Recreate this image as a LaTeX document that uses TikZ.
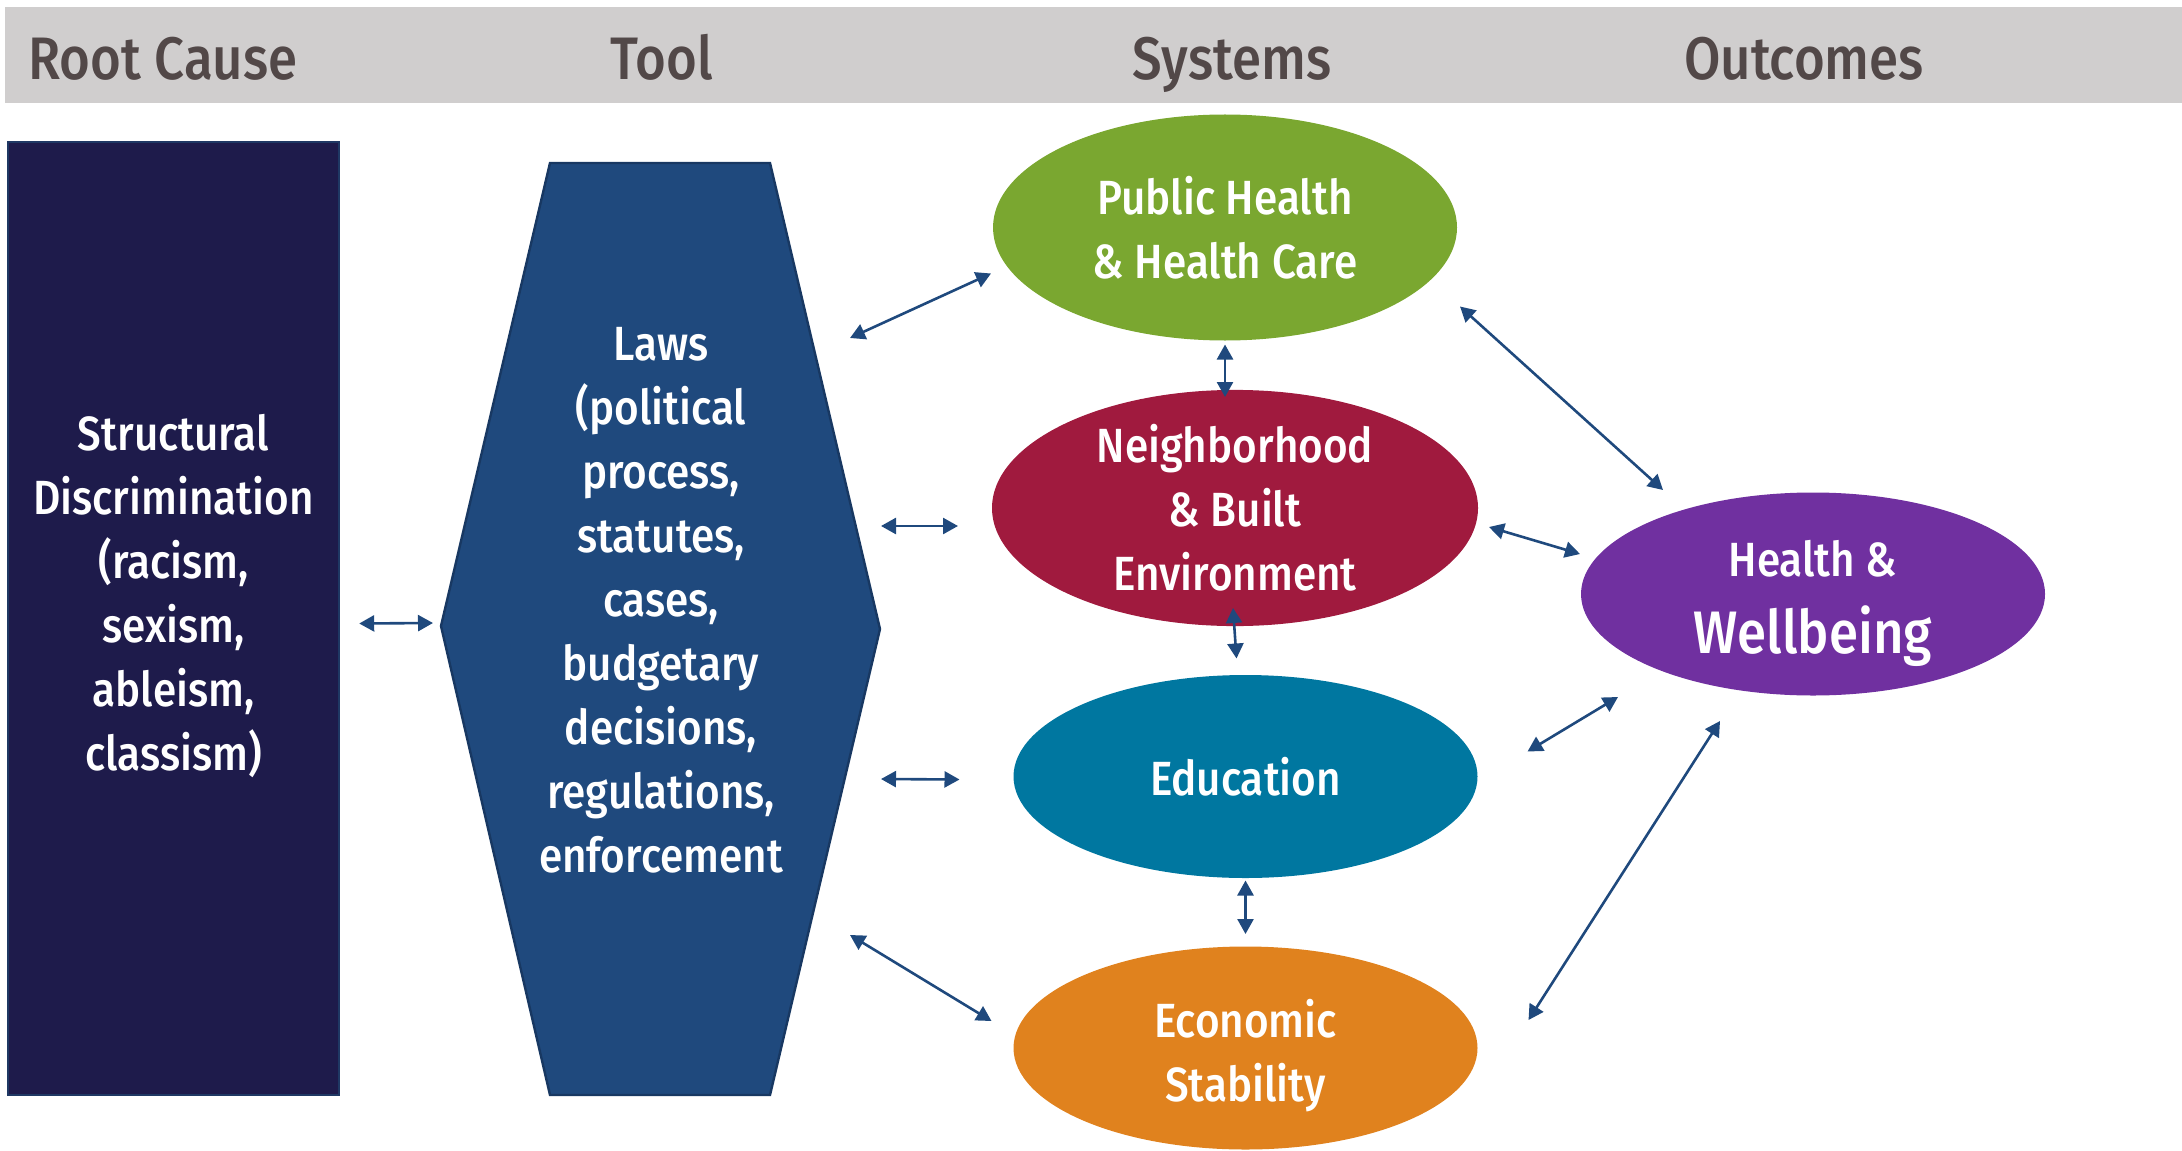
\documentclass[tikz,border=0pt]{standalone}
\usepackage{fontspec}
\setmainfont{Fira Sans}[UprightFont=* Medium, FakeStretch=0.88]
\usetikzlibrary{arrows.meta,calc,shapes.geometric}

\definecolor{bandgray}{RGB}{208,206,206}
\definecolor{headtext}{RGB}{82,72,72}
\definecolor{rootfill}{RGB}{30,27,75}
\definecolor{rootedge}{RGB}{31,56,100}
\definecolor{hexfill}{RGB}{31,73,125}
\definecolor{hexedge}{RGB}{24,56,98}
\definecolor{phgreen}{RGB}{122,167,48}
\definecolor{nbred}{RGB}{160,26,62}
\definecolor{edblue}{RGB}{0,119,160}
\definecolor{ecorange}{RGB}{224,130,30}
\definecolor{hwpurple}{RGB}{112,48,160}
\definecolor{arrowblue}{RGB}{31,73,125}

\tikzset{
  head/.style={text=headtext, font=\fontsize{30}{36}\selectfont, anchor=base},
  bodytext/.style={text=white, align=center, font=\fontsize{24}{32}\selectfont},
  sysellipse/.style={ellipse, draw=none, minimum width=232pt, minimum height=101.5pt, inner sep=0pt, bodytext},
  arr/.style={draw=arrowblue, line width=1.3pt, {Triangle[length=7.5pt,width=8pt]}-{Triangle[length=7.5pt,width=8pt]}}
}

\begin{document}
\begin{tikzpicture}[x=0.5pt, y=-0.5pt]
  \useasboundingbox (0,0) rectangle (2182,1150);

  % column header band
  \fill[bandgray] (5,7) rectangle (2182,103);
  \node[head] (hroot) at (163,80) {Root Cause};
  \node[head] (htool) at (662,80) {Tool};
  \node[head] (hsys)  at (1232,80) {Systems};
  \node[head] (hout)  at (1804,80) {Outcomes};

  % root cause box
  \node[draw=rootedge, fill=rootfill, line width=1.2pt, minimum width=165.5pt, minimum height=476.5pt,
        inner sep=0pt] (root) at (173.5,618.5) {};
  \node[bodytext] (roottext) at (173.5,596)
        {Structural\\Discrimination\\(racism,\\sexism,\\ableism,\\classism)};

  % tool hexagon
  \coordinate (hexc) at (660,629);
  \filldraw[fill=hexfill, draw=hexedge, line width=1.2pt]
    ($(hexc)+(-110,-466)$) -- ($(hexc)+(110,-466)$) -- ($(hexc)+(220,0)$)
    -- ($(hexc)+(110,466)$) -- ($(hexc)+(-110,466)$) -- ($(hexc)+(-219,-3)$) -- cycle;
  \coordinate (hexl) at ($(hexc)+(-219,-3)$);
  \node[bodytext] (laws) at (661,600)
    {Laws\\(political\\process,\\statutes,\\cases,\\budgetary\\decisions,\\regulations,\\enforcement};

  % systems
  \node[sysellipse, fill=phgreen, minimum height=113pt] (ph) at (1225,227.5) {Public Health\\\& Health Care};
  \node[sysellipse, fill=nbred, minimum width=243pt] (nb) at (1235,508) {Neighborhood\\\& Built\\Environment};
  \node[sysellipse, fill=edblue] (ed) at (1245.5,776.5) {Education};
  \node[sysellipse, fill=ecorange] (ec) at (1245.5,1048) {};
  \node[bodytext] (ectext) at ($(ec)+(0,8)$) {Economic\\Stability};

  % outcome
  \node[sysellipse, fill=hwpurple] (hw) at (1813,594) {};
  \node[bodytext] (hwtop) at ($(hw)+(0,-35)$) {Health \&};
  \node[bodytext, font=\fontsize{30}{34}\selectfont] (hwbottom) at ($(hw)+(0,42)$) {Wellbeing};

  % connectors
  \draw[arr] ($(root.east)+(19,5)$) -- ($(hexl)+(-8,-3)$);
  \draw[arr] ($(hexc)+(190,-291)$) -- ($(ph)+(-234,46)$);
  \draw[arr] ($(hexc)+(221,-103)$) -- ($(nb)+(-277,18)$);
  \draw[arr] ($(hexc)+(221,150)$) -- ($(ed)+(-286,3)$);
  \draw[arr] ($(hexc)+(190,306)$) -- ($(ec)+(-254,-27)$);
  \draw[arr] ($(ph)+(0,117)$) -- ($(nb)+(-10,-111)$);
  \draw[arr] ($(nb)+(-2,100)$) -- ($(ed)+(-9,-118)$);
  \draw[arr] ($(ed)+(0,104)$) -- ($(ec)+(0,-114)$);
  \draw[arr] ($(ph)+(235,79)$) -- ($(hw)+(-150,-104)$);
  \draw[arr] ($(nb)+(254,19)$) -- ($(hw)+(-233,-40)$);
  \draw[arr] ($(ed)+(282,-25)$) -- ($(hw)+(-195,103)$);
  \draw[arr] ($(ec)+(283,-28)$) -- ($(hw)+(-93,127)$);
\end{tikzpicture}
\end{document}
